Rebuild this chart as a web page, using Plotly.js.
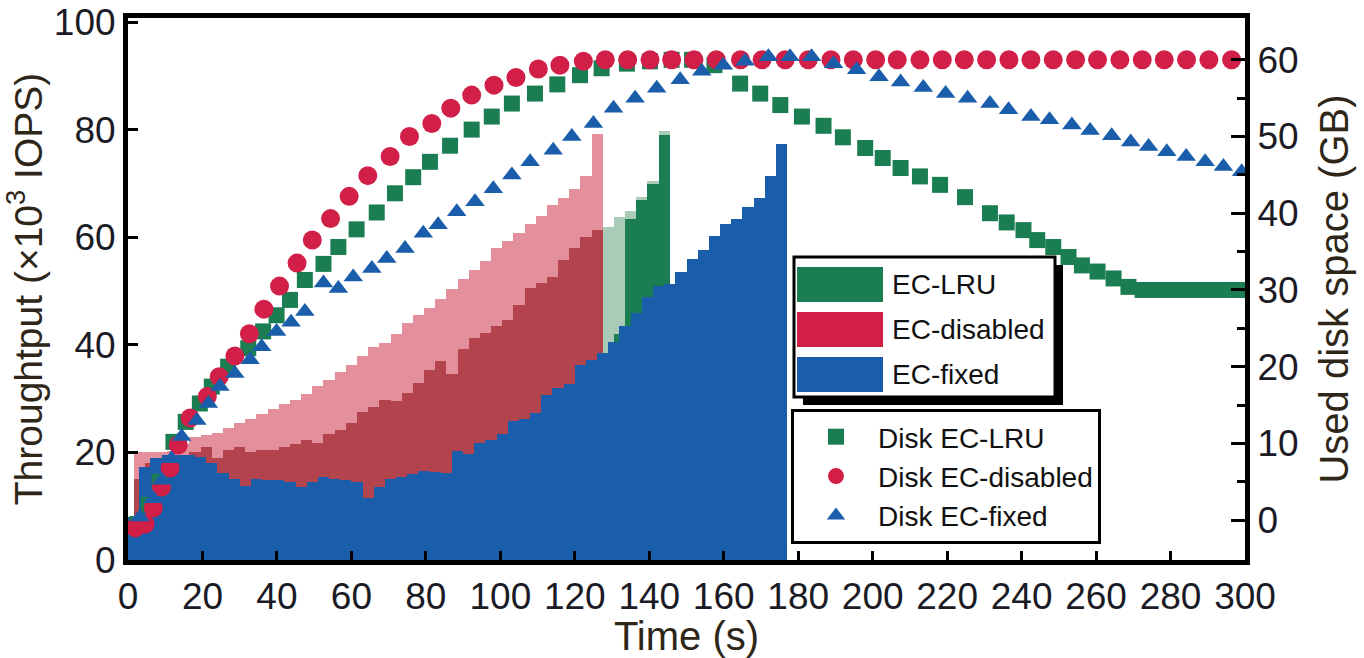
<!DOCTYPE html>
<html><head><meta charset="utf-8">
<script src="https://cdn.plot.ly/plotly-3.0.1.min.js"></script>
<style>html,body{margin:0;padding:0;background:#fff;} #chart{width:1364px;height:658px;}</style>
</head><body><div id="chart"></div>
<script>
// ---------- categories / labels ----------
const barNames = ["EC-LRU", "EC-disabled", "EC-fixed"];
const diskNames = ["Disk EC-LRU", "Disk EC-disabled", "Disk EC-fixed"];
const xTicks = [0,20,40,60,80,100,120,140,160,180,200,220,240,260,280,300];
const yLeftTicks = [0,20,40,60,80,100];
const yRightTicks = [0,10,20,30,40,50,60];
const yRightMinor = [5,15,25,35,45,55];

// ---------- throughput (x10^3 IOPS), 3 s bins ----------
const timeRedGreen = [0,3,6,9,12,15,18,21,24,27,30,33,36,39,42,45,48,51,54,57,60,63,66,69,72,75,78,81,84,87,90,93,96,99,102,105,108,111,114,117,120,123,126,129,132,135,138,141,144];
const timeBlue = [1.5,4.5,7.5,10.5,13.5,16.5,19.5,22.5,25.5,28.5,31.5,34.5,37.5,40.5,43.5,46.5,49.5,52.5,55.5,58.5,61.5,64.5,67.5,70.5,73.5,76.5,79.5,82.5,85.5,88.5,91.5,94.5,97.5,100.5,103.5,106.5,109.5,112.5,115.5,118.5,121.5,124.5,127.5,130.5,133.5,136.5,139.5,142.5,145.5,148.5,151.5,154.5,157.5,160.5,163.5,166.5,169.5,172.5,175.5];

// EC-disabled: peak of the fluctuation and its dense lower part
const disabledPeak = [8,20,20,20,20.3,21.5,22.8,23.2,23.6,24.6,25.5,26.2,27.2,28,29,29.8,30.8,32.3,33.5,35,36.2,38,39.7,40.3,42,44,45.5,46.8,48.6,50.4,52.2,54,55.7,58,59.3,60.8,62.5,64,66,67.3,69,71.5,79.3];
const disabledBase = [5,15,18,19,19,19.5,20.1,21,19,20.5,21,20.1,20.4,20.4,21,21.5,22.3,21.7,23.5,24.2,25.5,27.6,28.5,29.7,29.5,31,33,35.3,37,34.5,39.2,41.2,42.3,43.5,44.6,47.5,50.5,51.5,52.7,55.8,58,60.1,61.3];
// EC-LRU
const lruPeak = [5,16,19,19,19,19,19.5,20,18.5,20,20.5,19.5,20,20,20.5,21,21.5,21.2,23,23.8,25,27,28,29,29,30.5,32.5,34.5,36,34,38.5,40.5,41.5,43,44,47,49.5,51,52,55,57,59.3,60.5,62,63.8,65,67.5,70.5,79.7];
const lruBase = [4,15,18,18,18,18,18.5,19,17.5,19,19.5,18.5,19,19,19.5,20,20.5,20.2,22,22.8,24,26,27,28,28,29.5,31.5,33.5,35,33,37.5,39.5,40.5,42,43,46,48.5,50,51,54,56,58.3,59.5,38,42,63.5,67,70,79];
// EC-fixed
const fixedVals = [8,17.3,19,19.5,19.5,19.5,19.2,18,16.2,15,13.8,15,14.9,14.9,14.5,13.6,14.5,15.5,15,14.9,14.5,11.5,13.5,15,15.5,16,16.5,16.3,16.1,20.3,19.8,21.7,22.3,23.5,25.8,26.3,27.3,30.7,31.9,32.8,36.2,37.2,38.5,40.5,43.5,46,49,51,51.4,53.5,56,57.6,60.3,62.5,63.5,65.6,67.3,71.5,77.3];

// ---------- used disk space (GB) ----------
const diskLruT = [2.5,5.5,8.5,12.2,15.5,19.3,22.5,26.9,32.3,36.3,39.9,43.5,47.5,52.5,56.5,61.4,66.8,71.7,76.6,81.1,86.5,92.3,97.7,103.1,109.3,115.3,121.4,127.2,134,140.2,146,151.5,157.5,164.4,169.8,175.2,181,186.8,192,198,202.7,207.5,212.7,218.1,224.8,231.5,236,240.5,244.2,248.5,252.6,256.2,260.4,264.7,268.7,272.5,276.5,280.5,284.5,288.5,292.5,296.5,300];
const diskLruGB = [-0.5,2,5,10.2,12.8,15.2,17.4,20,22.4,24.6,26.7,28.7,31.3,33.4,35.6,37.9,40.1,42.6,44.7,46.7,48.8,50.9,52.6,54.3,55.6,56.8,58,58.9,59.5,59.8,60,60,59.3,56.9,55.6,54.1,52.6,51.4,49.9,48.5,47.2,45.9,44.8,43.7,42.1,40,38.8,37.8,36.5,35.6,34.3,33.2,32.4,31.5,30.4,30,30,30,30,30,30,30,30];
const diskDisabledT = [2,4.6,6.8,9,11.3,13.5,16.7,21.3,24.5,28.7,32.6,36.5,40.7,45.4,49.5,54.4,59.4,64.4,70.4,75.6,81.6,86.7,92.3,98.3,104.2,110.2,116,122.3,128.2,134.2,140.2,146,152,158,164.5,170.3,176.5,182.7,188.8,194.8,200.8,206.6,212.7,218.7,224.6,230.6,236.6,242.5,248.5,254.5,260.4,266.4,272.4,278.3,284.3,290.3,296.4];
const diskDisabledGB = [-1,-0.5,1.6,4.3,6.8,9.8,13.3,16.1,18.7,21.4,24.3,27.5,30.5,33.5,36.5,39.3,42.2,44.9,47.4,50,51.7,53.7,55.4,56.7,57.7,58.8,59.3,59.8,60,60,60,60,60,60,60,60,60,60,60,60,60,60,60,60,60,60,60,60,60,60,60,60,60,60,60,60,60];
const diskFixedT = [3.2,6.8,9.1,11.7,14.4,18.5,21.6,24.7,28.7,32.8,35.9,39.9,43.8,47.5,52.5,56.5,60.5,65.5,69.5,74.4,79.3,83.3,88.3,93.2,98.1,103.1,108,114.2,119.2,125,130.4,136.2,142,148.3,154.1,159.9,165.7,172,177.8,183.6,189.5,195.7,201.7,207.5,213.6,219.6,225.5,231.5,236.5,242.5,247.5,253.5,258.4,264.2,269.3,274.1,279,284.2,289.3,294.2,299.1];
const diskFixedGB = [0.4,2.8,5.2,8,10.9,13,15.2,17.4,19.1,20.9,22.6,24.6,25.8,27.2,30.9,30.2,31.7,32.8,34.1,35.4,37.4,38.5,40.2,41.5,43.2,45,46.7,48.2,50,51.7,53.7,55,56.3,57.4,58.5,59.3,59.8,60.4,60.4,60.4,59.5,58.7,57.8,57.1,56.4,55.6,55,54.3,53.5,52.6,52.2,51.5,50.8,50.1,49.3,48.7,48,47.4,46.7,46.1,45.4];

// ---------- styling ----------
const GREEN = '#1b7d52', RED = '#d11f48', BLUE = '#1a5eab';
const FONT = '"Liberation Sans", Arial, Helvetica, sans-serif';

function bar(x, y, color, name) {
  return {type:'bar', x:x, y:y, width:3, name:name, marker:{color:color, line:{width:0}},
          showlegend:false, hoverinfo:'x+y+name', yaxis:'y'};
}
const traces = [
  bar(timeRedGreen.slice(0, lruPeak.length), lruPeak, '#a9cbb8', barNames[0]),
  bar(timeRedGreen.slice(0, lruBase.length), lruBase, GREEN, barNames[0]),
  bar(timeRedGreen.slice(0, disabledPeak.length), disabledPeak, '#e3909c', barNames[1]),
  bar(timeRedGreen.slice(0, disabledBase.length), disabledBase, '#b3434d', barNames[1]),
  bar(timeBlue.slice(0, fixedVals.length), fixedVals, BLUE, barNames[2]),
  {type:'scatter', mode:'markers', x:diskLruT, y:diskLruGB, name:diskNames[0], yaxis:'y2',
   marker:{symbol:'square', size:16, color:GREEN}},
  {type:'scatter', mode:'markers', x:diskDisabledT, y:diskDisabledGB, name:diskNames[1], yaxis:'y2',
   marker:{symbol:'circle', size:19, color:RED}},
  {type:'scatter', mode:'markers', x:diskFixedT, y:diskFixedGB, name:diskNames[2], yaxis:'y2',
   marker:{symbol:'triangle-up', size:17, color:BLUE}}
];

// plot-area pixel frame used to place the bar legend box
const PL = 128, PR = 1245, PT = 18, PB = 560;
const fx = px => (px - PL) / (PR - PL);
const fy = py => (PB - py) / (PB - PT);
function rect(x0, y0, x1, y1, fill, lw) {
  return {type:'rect', xref:'paper', yref:'paper', x0:fx(x0), x1:fx(x1), y0:fy(y1), y1:fy(y0),
          fillcolor:fill, line:{color:'#000', width:lw}, layer:'above'};
}
const barColors = [GREEN, RED, BLUE];
const shapes = [
  rect(803, 265, 1063, 405, '#000', 0),
  rect(794, 257, 1055, 397, '#fff', 3)
];
const annotations = [];
barNames.forEach((n, i) => {
  const top = 267 + i * 45;
  shapes.push(rect(797, top, 883, top + 35, barColors[i], 0));
  annotations.push({xref:'paper', yref:'paper', x:fx(890), y:fy(top + 17.5), xanchor:'left', yanchor:'middle',
    text:n, showarrow:false, font:{family:FONT, size:28, color:'#111'}});
});

const TITLE_C = '#2e2718', TICK_C = '#1b1b26';
const layout = {
  width:1364, height:658,
  margin:{l:PL, r:1364 - PR, t:PT, b:658 - PB, pad:0},
  paper_bgcolor:'#fff', plot_bgcolor:'#fff',
  font:{family:FONT, size:37, color:TICK_C},
  barmode:'overlay', bargap:0,
  showlegend:true,
  xaxis:{range:[0,300], tickmode:'array', tickvals:xTicks, ticks:'inside', ticklen:9, tickwidth:3, tickcolor:'#000',
         showline:true, linewidth:5, linecolor:'#000', mirror:true, showgrid:false, zeroline:false, tickangle:0,
         tickfont:{family:FONT, size:37, color:TICK_C},
         title:{text:'Time (s)', font:{family:FONT, size:40, color:TITLE_C}, standoff:6}},
  yaxis:{range:[0,100.8], tickmode:'array', tickvals:yLeftTicks, ticks:'inside', ticklen:10, tickwidth:3, tickcolor:'#000',
         showline:true, linewidth:5, linecolor:'#000', showgrid:false, zeroline:false,
         tickfont:{family:FONT, size:37, color:TICK_C},
         title:{text:'Throughtput (×10<sup>3</sup> IOPS)', font:{family:FONT, size:39, color:TITLE_C}, standoff:1}},
  yaxis2:{overlaying:'y', side:'right', range:[-5.2,65.45], tickmode:'array', tickvals:yRightTicks, ticks:'inside',
          ticklen:14, tickwidth:3, tickcolor:'#000',
          minor:{tickmode:'array', tickvals:yRightMinor, ticks:'inside', ticklen:8, tickwidth:3, tickcolor:'#000', showgrid:false},
          showline:true, linewidth:5, linecolor:'#000', showgrid:false, zeroline:false,
          tickfont:{family:FONT, size:37, color:TICK_C},
          title:{text:'Used disk space (GB)', font:{family:FONT, size:40, color:TITLE_C}, standoff:24}},
  legend:{x:fx(791), y:fy(409), xanchor:'left', yanchor:'top', bgcolor:'#fff', bordercolor:'#000', borderwidth:3,
          font:{family:FONT, size:28, color:'#111'}, itemwidth:74},
  shapes:shapes,
  annotations:annotations
};

Plotly.newPlot('chart', traces, layout, {displayModeBar:false, staticPlot:true});
</script>
</body></html>
